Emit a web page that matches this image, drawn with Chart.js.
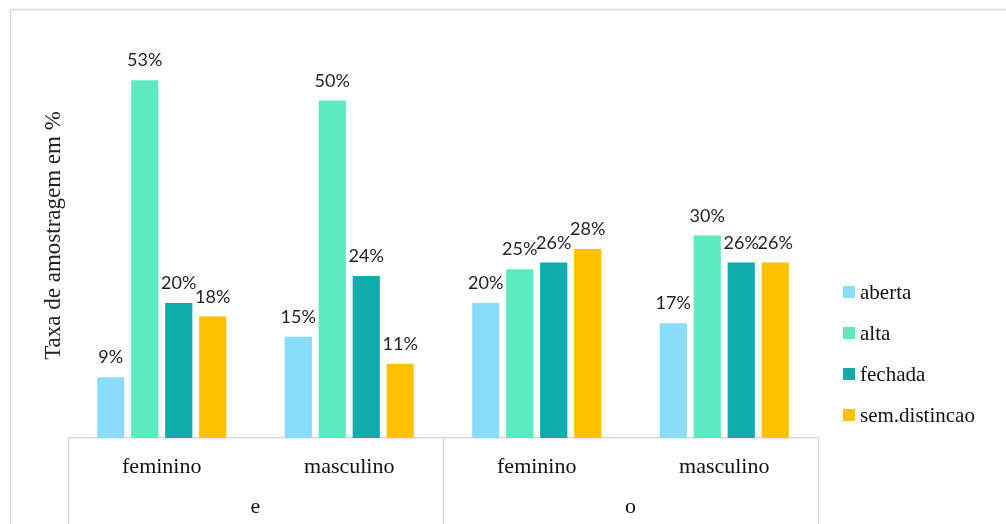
<!DOCTYPE html>
<html>
<head>
<meta charset="utf-8">
<script src="https://cdn.jsdelivr.net/npm/chart.js@4/dist/chart.umd.min.js"></script>
<style>
  html, body { margin: 0; padding: 0; background: #fff; }
  #wrap { width: 1006px; height: 524px; }
</style>
</head>
<body>
<div id="wrap"><canvas id="chart" width="1006" height="524"></canvas></div>
<script>
// data
const subGroups = ['feminino', 'masculino', 'feminino', 'masculino'];
const outerGroups = ['e', 'o'];
const seriesNames = ['aberta', 'alta', 'fechada', 'sem.distincao'];
const aberta = [9, 15, 20, 17];
const alta = [53, 50, 25, 30];
const fechada = [20, 24, 26, 26];
const semDistincao = [18, 11, 28, 26];
const seriesColors = ['#89dcfc', '#5eeac0', '#10abab', '#ffc000'];

const serif = "'Liberation Serif', 'Times New Roman', serif";
const gridGray = '#d9d9d9';

// outer frame, group separators
const framePlugin = {
    id: 'frame',
    beforeDraw(chart) {
        const ctx = chart.ctx;
        ctx.save();
        ctx.strokeStyle = gridGray;
        ctx.lineWidth = 1.5;
        ctx.beginPath();
        ctx.moveTo(10.5, chart.height);
        ctx.lineTo(10.5, 9.5);
        ctx.lineTo(chart.width, 9.5);
        ctx.stroke();
        ctx.restore();
    },
    afterDraw(chart) {
        const ctx = chart.ctx;
        const x = chart.scales.x;
        const bottom = chart.chartArea.bottom;
        ctx.save();
        ctx.strokeStyle = gridGray;
        ctx.lineWidth = 1.5;
        for (let i = 0; i <= outerGroups.length; i++) {
            const px = Math.round(x.left + i * x.width / outerGroups.length) + 0.5;
            ctx.beginPath();
            ctx.moveTo(px, bottom);
            ctx.lineTo(px, chart.height);
            ctx.stroke();
        }
        ctx.restore();
    }
};

// percentage labels above the bars
const valueLabels = {
    id: 'valueLabels',
    afterDatasetsDraw(chart) {
        const ctx = chart.ctx;
        ctx.save();
        ctx.font = "18px Lato, 'Noto Sans', sans-serif";
        ctx.fillStyle = '#1f1f1f';
        ctx.textAlign = 'center';
        ctx.textBaseline = 'alphabetic';
        chart.data.datasets.forEach((ds, i) => {
            chart.getDatasetMeta(i).data.forEach((bar, j) => {
                ctx.fillText(ds.data[j] + '%', bar.x, bar.y - 14);
            });
        });
        ctx.restore();
    }
};

// legend on the right, stacked towards the bottom
const sideLegend = {
    id: 'sideLegend',
    afterDraw(chart) {
        const ctx = chart.ctx;
        const area = chart.chartArea;
        const n = chart.data.datasets.length;
        ctx.save();
        ctx.font = '21px ' + serif;
        ctx.textBaseline = 'middle';
        chart.data.datasets.forEach((ds, i) => {
            const y = area.bottom - 23 - (n - 1 - i) * 41;
            const bx = area.right + 25;
            ctx.fillStyle = ds.backgroundColor;
            ctx.fillRect(bx, y - 6, 12, 12);
            ctx.fillStyle = '#111';
            ctx.fillText(ds.label, bx + 17, y + 1);
        });
        ctx.restore();
    }
};

const seriesData = [aberta, alta, fechada, semDistincao];

new Chart(document.getElementById('chart').getContext('2d'), {
    type: 'bar',
    data: {
        labels: subGroups,
        datasets: seriesNames.map((name, i) => ({
            label: name,
            data: seriesData[i],
            backgroundColor: seriesColors[i],
            borderWidth: 0,
            categoryPercentage: 0.725,
            barPercentage: 0.8
        }))
    },
    options: {
        responsive: false,
        animation: false,
        layout: { padding: { left: 40, top: 33, right: 188, bottom: 5 } },
        plugins: {
            legend: { display: false },
            tooltip: { enabled: false }
        },
        scales: {
            x: {
                grid: { display: false, drawTicks: false },
                border: { display: true, color: gridGray, width: 1.5 },
                ticks: { font: { family: serif, size: 22 }, color: '#111', padding: 16, maxRotation: 0 },
                afterFit: s => { s.height = 41; }
            },
            x2: {
                type: 'category',
                position: 'bottom',
                labels: outerGroups,
                offset: true,
                grid: { display: false, drawTicks: false },
                border: { display: false },
                ticks: { font: { family: serif, size: 22 }, color: '#111', padding: 15 },
                afterFit: s => { s.height = 40; }
            },
            y: {
                min: 0,
                max: 60,
                grid: { display: false, drawTicks: false },
                border: { display: false },
                ticks: { display: false },
                title: {
                    display: true,
                    text: 'Taxa de amostragem em %',
                    font: { family: serif, size: 23 },
                    color: '#222',
                    padding: 0
                },
                afterFit: s => { s.width = 28; }
            }
        }
    },
    plugins: [framePlugin, valueLabels, sideLegend]
});
</script>
</body>
</html>
